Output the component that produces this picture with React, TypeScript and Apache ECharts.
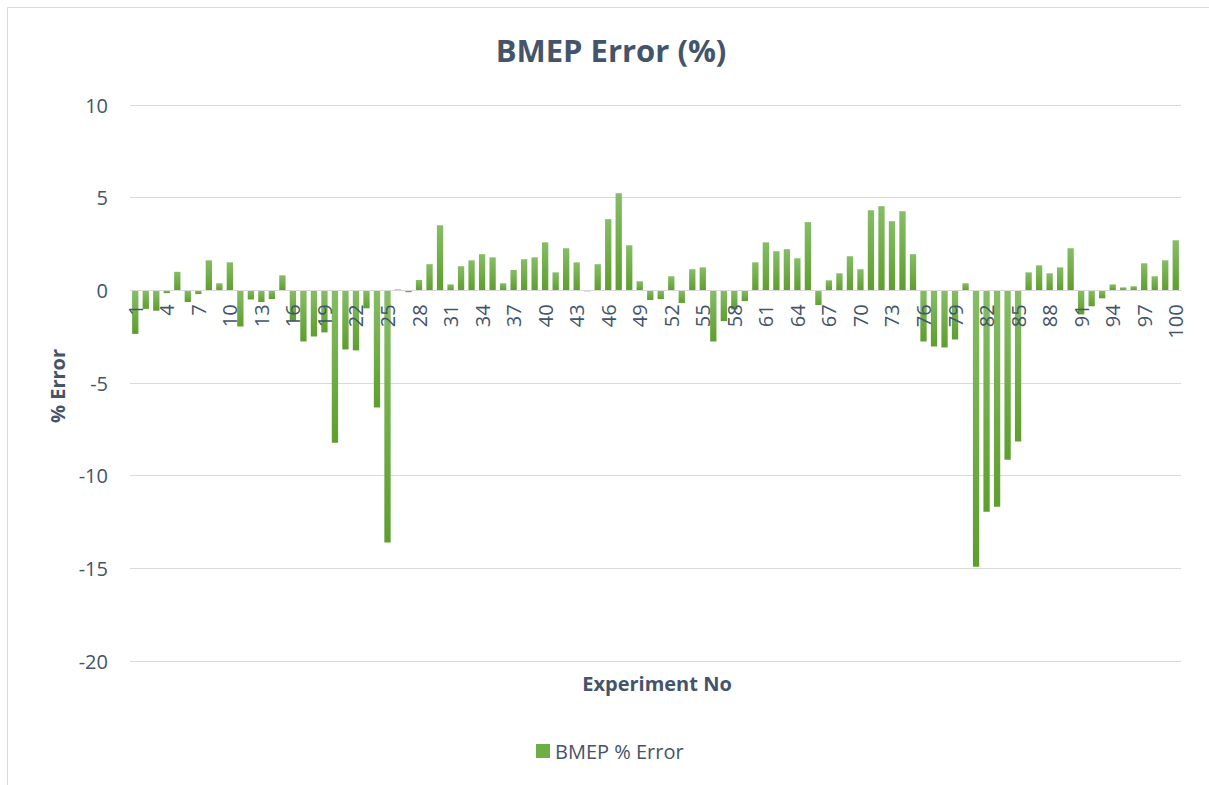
import React, { useEffect, useRef } from "react";
import * as echarts from "echarts";

const categories: string[] = Array.from({ length: 100 }, (_, i) => String(i + 1));

const errors1to25: number[] = [
  -2.35, -1.0, -1.1, -0.15, 1.0, -0.63, -0.2, 1.62, 0.38, 1.51,
  -1.95, -0.49, -0.63, -0.47, 0.81, -1.66, -2.76, -2.49, -2.27, -8.22,
  -3.19, -3.24, -0.97, -6.32, -13.6,
];
const errors26to50: number[] = [
  0.05, -0.1, 0.56, 1.41, 3.51, 0.32, 1.3, 1.62, 1.95, 1.78,
  0.38, 1.1, 1.68, 1.78, 2.59, 0.97, 2.27, 1.51, -0.05, 1.41,
  3.84, 5.24, 2.43, 0.49, -0.52,
];
const errors51to75: number[] = [
  -0.47, 0.76, -0.68, 1.14, 1.24, -2.76, -1.66, -1.03, -0.58, 1.51,
  2.59, 2.11, 2.22, 1.73, 3.68, -0.79, 0.54, 0.92, 1.84, 1.14,
  4.32, 4.54, 3.73, 4.27, 1.95,
];
const errors76to100: number[] = [
  -2.76, -3.03, -3.08, -2.65, 0.38, -14.92, -11.95, -11.68, -9.14, -8.16,
  0.97, 1.35, 0.92, 1.24, 2.27, -1.3, -0.86, -0.43, 0.32, 0.16,
  0.22, 1.46, 0.76, 1.62, 2.7,
];
const bmepError: number[] = [...errors1to25, ...errors26to50, ...errors51to75, ...errors76to100];

const yMin = -20;
const yMax = 10;

const TEXT = "#44546A";
const FONT = "'Open Sans', 'Noto Sans', sans-serif";

const GRID_TOP = 105;
const GRID_BOTTOM = 124;
const H = 785;

export default function App() {
  const ref = useRef<HTMLDivElement>(null);
  useEffect(() => {
    if (!ref.current) return;
    const chart = echarts.init(ref.current, undefined, { renderer: "svg" });
    const gridH = H - GRID_TOP - GRID_BOTTOM;
    // shift the category axis up from the grid bottom to the value-axis zero
    const zeroOffset = -gridH * ((0 - yMin) / (yMax - yMin));
    const barColor = new echarts.graphic.LinearGradient(0, 0, 0, 1, [
      { offset: 0, color: "#86BD66" },
      { offset: 1, color: "#5E9E2E" },
    ]);
    chart.setOption({
      animation: false,
      backgroundColor: "#ffffff",
      title: {
        text: "BMEP Error (%)",
        left: 606,
        textAlign: "center",
        top: 29,
        textStyle: { fontFamily: FONT, fontSize: 31, fontWeight: "bold", color: TEXT },
      },
      grid: { left: 130, right: 28, top: GRID_TOP, bottom: GRID_BOTTOM, containLabel: false },
      legend: {
        top: 736,
        left: 531,
        itemWidth: 14,
        itemHeight: 14,
        icon: "rect",
        textStyle: { fontFamily: FONT, fontSize: 20, color: TEXT },
        data: [{ name: "BMEP % Error", itemStyle: { color: "#6FAE44" } }],
      },
      graphic: [
        {
          type: "rect",
          shape: { x: 7.5, y: 7.5, width: 1240, height: 820 },
          style: { fill: "none", stroke: "#D9D9D9", lineWidth: 1 },
          z: -10,
        },
        {
          type: "text",
          x: 657,
          y: 683,
          style: {
            text: "Experiment No",
            fontFamily: FONT,
            fontSize: 20,
            fontWeight: "bold",
            fill: TEXT,
            align: "center",
            verticalAlign: "middle",
          },
        },
        {
          type: "text",
          x: 57,
          y: 386,
          rotation: Math.PI / 2,
          style: {
            text: "% Error",
            fontFamily: FONT,
            fontSize: 20,
            fontWeight: "bold",
            fill: TEXT,
            align: "center",
            verticalAlign: "middle",
          },
        },
      ],
      xAxis: {
        type: "category",
        data: categories,
        position: "bottom",
        offset: zeroOffset,
        z: 10,
        axisLine: { onZero: false, lineStyle: { color: "#D9D9D9", width: 1 } },
        axisTick: { show: false },
        axisLabel: {
          interval: 2,
          rotate: 90,
          margin: 14,
          fontFamily: FONT,
          fontSize: 20,
          color: TEXT,
        },
        splitLine: { show: false },
      },
      yAxis: {
        type: "value",
        min: yMin,
        max: yMax,
        interval: 5,
        axisLine: { show: false },
        axisTick: { show: false },
        axisLabel: { margin: 22, fontFamily: FONT, fontSize: 20, color: TEXT },
        splitLine: { lineStyle: { color: "#D9D9D9", width: 1 } },
      },
      series: [
        {
          name: "BMEP % Error",
          type: "bar",
          data: bmepError,
          barCategoryGap: "40%",
          itemStyle: { color: barColor },
        },
      ],
    });
    return () => chart.dispose();
  }, []);
  return (
    <div
      ref={ref}
      style={{ position: "fixed", left: 0, top: 0, width: 1209, height: 785 }}
    />
  );
}
